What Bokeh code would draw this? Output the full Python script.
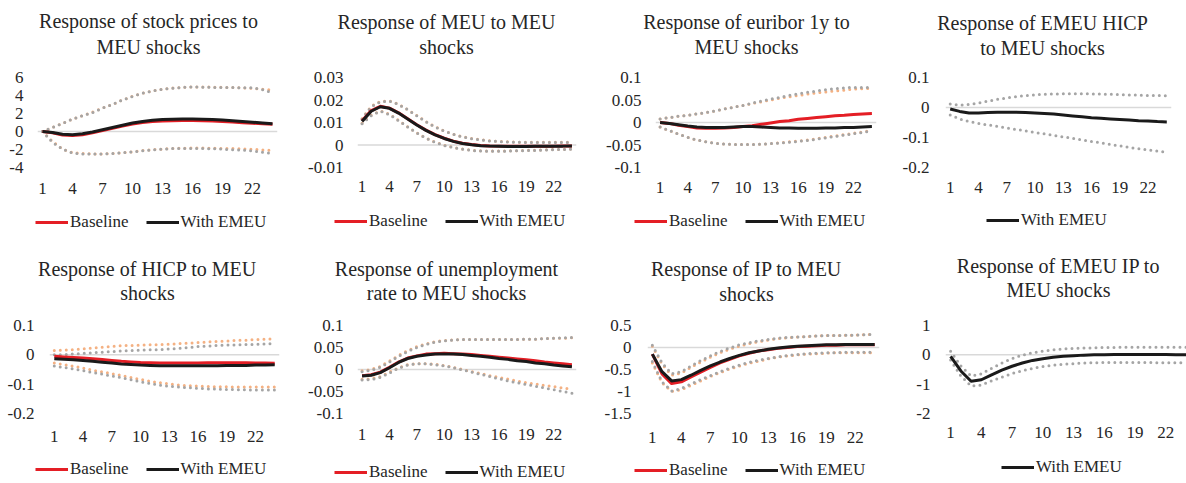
from bokeh.plotting import figure
from bokeh.layouts import column, row
from bokeh.models import (Range1d, FixedTicker, CustomJSTickFormatter, Span, Label,
                          Legend, LegendItem)
from bokeh.embed import file_html
from bokeh.resources import INLINE

# ---------------- data ----------------
periods = list(range(1, 25))
x_ticks = [1, 4, 7, 10, 13, 16, 19, 22]

# Panel 1: stock prices
stock_base = [0.0, -0.15, -0.4, -0.45, -0.35, -0.15, 0.1, 0.35, 0.6, 0.82, 1.0, 1.1, 1.17, 1.2, 1.22, 1.22, 1.2, 1.16, 1.1, 1.05, 0.98, 0.92, 0.86, 0.8]
stock_base_lo = [0.0, -1.1, -1.95, -2.35, -2.45, -2.5, -2.5, -2.45, -2.35, -2.25, -2.12, -2.02, -1.95, -1.9, -1.86, -1.84, -1.84, -1.86, -1.88, -1.9, -1.94, -1.98, -2.04, -2.1]
stock_base_hi = [0.0, 0.45, 0.9, 1.37, 1.75, 2.15, 2.6, 3.0, 3.5, 3.9, 4.25, 4.5, 4.7, 4.82, 4.9, 4.95, 4.95, 4.93, 4.9, 4.88, 4.85, 4.8, 4.7, 4.6]
stock_emeu = [0.0, -0.1, -0.3, -0.35, -0.25, -0.05, 0.2, 0.45, 0.7, 0.95, 1.12, 1.25, 1.32, 1.36, 1.38, 1.38, 1.36, 1.32, 1.27, 1.2, 1.12, 1.04, 0.95, 0.87]
stock_emeu_lo = [0.0, -1.2, -1.96, -2.4, -2.5, -2.5, -2.5, -2.45, -2.37, -2.26, -2.15, -2.04, -1.96, -1.9, -1.9, -1.9, -1.9, -1.92, -1.96, -2.03, -2.08, -2.15, -2.3, -2.45]
stock_emeu_hi = [0.0, 0.44, 0.9, 1.37, 1.75, 2.1, 2.6, 3.0, 3.5, 3.9, 4.25, 4.5, 4.7, 4.8, 4.9, 4.96, 4.92, 4.9, 4.88, 4.88, 4.87, 4.85, 4.65, 4.3]
stock_yticks = [-4, -2, 0, 2, 4, 6]

# Panel 2: MEU
meu_base = [0.0108, 0.0153, 0.0172, 0.0164, 0.0143, 0.0117, 0.009, 0.0066, 0.0046, 0.003, 0.0017, 0.0008, 0.0002, -0.0002, -0.0004, -0.0005, -0.0006, -0.0006, -0.0006, -0.0006, -0.0005, -0.0005, -0.0004, -0.0004]
meu_base_lo = [0.0097, 0.0132, 0.0152, 0.0137, 0.011, 0.0081, 0.0054, 0.0031, 0.0013, -0.0001, -0.0011, -0.0018, -0.0023, -0.0026, -0.0027, -0.0027, -0.0026, -0.0025, -0.0024, -0.0023, -0.0021, -0.002, -0.0019, -0.0018]
meu_base_hi = [0.0117, 0.0172, 0.0194, 0.0196, 0.0181, 0.0158, 0.0131, 0.0104, 0.0081, 0.0063, 0.0048, 0.0037, 0.0029, 0.0023, 0.0019, 0.0016, 0.0014, 0.0013, 0.0012, 0.0012, 0.0012, 0.0012, 0.0012, 0.0012]
meu_emeu = [0.0105, 0.015, 0.017, 0.0163, 0.0142, 0.0116, 0.0089, 0.0065, 0.0045, 0.0029, 0.0016, 0.0007, 0.0001, -0.0003, -0.0005, -0.0006, -0.0007, -0.0007, -0.0007, -0.0006, -0.0006, -0.0005, -0.0005, -0.0004]
meu_emeu_lo = [0.0095, 0.013, 0.015, 0.0135, 0.0108, 0.008, 0.0053, 0.003, 0.0012, -0.0002, -0.0012, -0.0019, -0.0024, -0.0027, -0.0028, -0.0028, -0.0027, -0.0026, -0.0025, -0.0024, -0.0022, -0.0021, -0.002, -0.0019]
meu_emeu_hi = [0.0115, 0.017, 0.0192, 0.0195, 0.018, 0.0157, 0.013, 0.0103, 0.008, 0.0062, 0.0047, 0.0036, 0.0028, 0.0022, 0.0018, 0.0015, 0.0013, 0.0012, 0.0011, 0.0011, 0.0011, 0.0011, 0.0011, 0.0011]
meu_yticks = [-0.01, 0, 0.01, 0.02, 0.03]

# Panel 3: euribor 1y
eur_base = [0.0, -0.002, -0.006, -0.009, -0.012, -0.013, -0.013, -0.012, -0.011, -0.009, -0.007, -0.004, -0.001, 0.002, 0.004, 0.007, 0.009, 0.011, 0.013, 0.015, 0.016, 0.018, 0.019, 0.02]
eur_base_lo = [-0.01, -0.018, -0.026, -0.033, -0.039, -0.043, -0.046, -0.048, -0.049, -0.049, -0.049, -0.048, -0.047, -0.045, -0.043, -0.041, -0.039, -0.036, -0.033, -0.03, -0.027, -0.024, -0.021, -0.018]
eur_base_hi = [0.008, 0.011, 0.014, 0.016, 0.019, 0.022, 0.026, 0.03, 0.034, 0.038, 0.042, 0.046, 0.05, 0.054, 0.057, 0.06, 0.063, 0.066, 0.068, 0.07, 0.072, 0.074, 0.075, 0.076]
eur_emeu = [0.0, -0.002, -0.005, -0.008, -0.01, -0.011, -0.011, -0.011, -0.01, -0.009, -0.009, -0.01, -0.011, -0.012, -0.012, -0.013, -0.013, -0.013, -0.012, -0.012, -0.011, -0.011, -0.01, -0.009]
eur_emeu_lo = [-0.01, -0.018, -0.026, -0.033, -0.039, -0.043, -0.046, -0.048, -0.049, -0.049, -0.049, -0.048, -0.047, -0.046, -0.044, -0.042, -0.04, -0.037, -0.034, -0.031, -0.028, -0.025, -0.022, -0.019]
eur_emeu_hi = [0.008, 0.011, 0.014, 0.016, 0.019, 0.022, 0.026, 0.03, 0.034, 0.038, 0.043, 0.048, 0.052, 0.056, 0.06, 0.064, 0.067, 0.07, 0.073, 0.075, 0.077, 0.078, 0.078, 0.078]
eur_yticks = [-0.1, -0.05, 0, 0.05, 0.1]

# Panel 4: EMEU HICP (With EMEU only)
ehicp_emeu = [-0.005, -0.013, -0.018, -0.018, -0.017, -0.016, -0.016, -0.016, -0.017, -0.018, -0.02, -0.022, -0.025, -0.028, -0.031, -0.034, -0.036, -0.038, -0.04, -0.042, -0.044, -0.045, -0.047, -0.048]
ehicp_emeu_lo = [-0.025, -0.038, -0.047, -0.053, -0.058, -0.063, -0.068, -0.073, -0.078, -0.083, -0.088, -0.093, -0.098, -0.103, -0.108, -0.113, -0.118, -0.123, -0.128, -0.133, -0.137, -0.141, -0.145, -0.149]
ehicp_emeu_hi = [0.012, 0.008, 0.01, 0.015, 0.021, 0.027, 0.032, 0.036, 0.04, 0.042, 0.044, 0.045, 0.046, 0.046, 0.046, 0.045, 0.045, 0.044, 0.043, 0.042, 0.041, 0.04, 0.04, 0.039]
ehicp_yticks = [-0.2, -0.1, 0, 0.1]

# Panel 5: HICP
hicp_base = [-0.005, -0.007, -0.009, -0.011, -0.013, -0.016, -0.019, -0.022, -0.024, -0.026, -0.027, -0.028, -0.028, -0.028, -0.028, -0.028, -0.027, -0.027, -0.027, -0.027, -0.027, -0.028, -0.028, -0.029]
hicp_base_lo = [-0.028, -0.033, -0.039, -0.045, -0.052, -0.058, -0.064, -0.07, -0.077, -0.084, -0.09, -0.095, -0.099, -0.103, -0.105, -0.107, -0.108, -0.109, -0.109, -0.11, -0.11, -0.11, -0.11, -0.11]
hicp_base_hi = [0.015, 0.016, 0.018, 0.02, 0.023, 0.026, 0.029, 0.031, 0.032, 0.033, 0.034, 0.035, 0.036, 0.038, 0.04, 0.042, 0.044, 0.046, 0.047, 0.049, 0.05, 0.052, 0.053, 0.055]
hicp_emeu = [-0.013, -0.015, -0.017, -0.019, -0.022, -0.025, -0.028, -0.031, -0.033, -0.035, -0.036, -0.037, -0.037, -0.037, -0.037, -0.037, -0.037, -0.037, -0.036, -0.036, -0.036, -0.035, -0.035, -0.034]
hicp_emeu_lo = [-0.038, -0.043, -0.048, -0.054, -0.06, -0.066, -0.072, -0.078, -0.085, -0.092, -0.098, -0.103, -0.107, -0.11, -0.112, -0.114, -0.116, -0.117, -0.118, -0.119, -0.119, -0.12, -0.12, -0.12]
hicp_emeu_hi = [0.0, 0.001, 0.003, 0.005, 0.007, 0.009, 0.011, 0.013, 0.015, 0.016, 0.017, 0.018, 0.02, 0.022, 0.025, 0.028, 0.03, 0.032, 0.033, 0.034, 0.035, 0.036, 0.037, 0.038]
hicp_yticks = [-0.2, -0.1, 0, 0.1]

# Panel 6: unemployment rate
unemp_base = [-0.014, -0.012, -0.006, 0.005, 0.017, 0.026, 0.031, 0.035, 0.036, 0.037, 0.036, 0.035, 0.034, 0.032, 0.03, 0.028, 0.026, 0.024, 0.022, 0.02, 0.017, 0.015, 0.013, 0.011]
unemp_base_lo = [-0.022, -0.021, -0.016, -0.006, 0.004, 0.011, 0.013, 0.013, 0.012, 0.009, 0.005, 0.0, -0.005, -0.009, -0.014, -0.018, -0.022, -0.026, -0.03, -0.033, -0.036, -0.039, -0.042, -0.045]
unemp_base_hi = [-0.003, 0.0, 0.007, 0.019, 0.032, 0.043, 0.052, 0.058, 0.063, 0.066, 0.067, 0.068, 0.068, 0.068, 0.068, 0.068, 0.068, 0.068, 0.069, 0.069, 0.07, 0.071, 0.071, 0.072]
unemp_emeu = [-0.015, -0.013, -0.007, 0.004, 0.016, 0.025, 0.03, 0.033, 0.035, 0.035, 0.035, 0.034, 0.032, 0.03, 0.028, 0.025, 0.023, 0.02, 0.018, 0.015, 0.013, 0.01, 0.008, 0.006]
unemp_emeu_lo = [-0.024, -0.023, -0.018, -0.008, 0.003, 0.01, 0.013, 0.013, 0.011, 0.008, 0.004, -0.001, -0.006, -0.011, -0.016, -0.021, -0.026, -0.03, -0.034, -0.038, -0.042, -0.046, -0.05, -0.054]
unemp_emeu_hi = [-0.005, -0.002, 0.005, 0.017, 0.03, 0.041, 0.05, 0.057, 0.062, 0.065, 0.067, 0.068, 0.068, 0.068, 0.068, 0.068, 0.068, 0.068, 0.069, 0.069, 0.07, 0.071, 0.072, 0.073]
unemp_yticks = [-0.1, -0.05, 0, 0.05, 0.1]

# Panel 7: IP
ip_base = [-0.15, -0.6, -0.82, -0.78, -0.67, -0.56, -0.45, -0.35, -0.27, -0.19, -0.13, -0.08, -0.05, -0.02, 0.0, 0.02, 0.03, 0.04, 0.05, 0.05, 0.06, 0.06, 0.06, 0.06]
ip_base_lo = [-0.35, -0.8, -1.0, -0.96, -0.86, -0.76, -0.66, -0.57, -0.49, -0.42, -0.36, -0.31, -0.26, -0.22, -0.19, -0.17, -0.15, -0.14, -0.13, -0.12, -0.12, -0.12, -0.12, -0.12]
ip_base_hi = [0.03, -0.38, -0.63, -0.58, -0.45, -0.33, -0.22, -0.12, -0.04, 0.03, 0.09, 0.13, 0.17, 0.2, 0.22, 0.24, 0.25, 0.26, 0.27, 0.27, 0.28, 0.28, 0.29, 0.3]
ip_emeu = [-0.15, -0.55, -0.76, -0.73, -0.63, -0.52, -0.42, -0.33, -0.25, -0.18, -0.12, -0.08, -0.04, -0.01, 0.01, 0.03, 0.04, 0.05, 0.06, 0.06, 0.07, 0.07, 0.07, 0.07]
ip_emeu_lo = [-0.32, -0.78, -0.99, -0.93, -0.83, -0.73, -0.64, -0.55, -0.47, -0.4, -0.34, -0.29, -0.25, -0.21, -0.18, -0.16, -0.14, -0.13, -0.12, -0.12, -0.11, -0.11, -0.11, -0.11]
ip_emeu_hi = [0.05, -0.35, -0.6, -0.55, -0.42, -0.3, -0.19, -0.09, -0.01, 0.06, 0.11, 0.15, 0.18, 0.21, 0.23, 0.24, 0.25, 0.26, 0.27, 0.27, 0.28, 0.28, 0.29, 0.3]
ip_yticks = [-1.5, -1, -0.5, 0, 0.5]

# Panel 8: EMEU IP (With EMEU only)
eip_emeu = [-0.05, -0.55, -0.9, -0.85, -0.68, -0.52, -0.39, -0.28, -0.19, -0.13, -0.08, -0.05, -0.03, -0.01, 0.0, 0.0, 0.01, 0.01, 0.01, 0.01, 0.01, 0.01, 0.0, 0.0]
eip_emeu_lo = [-0.18, -0.72, -1.06, -1.03, -0.89, -0.76, -0.64, -0.54, -0.46, -0.4, -0.35, -0.32, -0.3, -0.28, -0.27, -0.26, -0.26, -0.26, -0.26, -0.26, -0.27, -0.27, -0.27, -0.27]
eip_emeu_hi = [0.12, -0.38, -0.72, -0.65, -0.46, -0.28, -0.13, -0.01, 0.07, 0.13, 0.17, 0.2, 0.22, 0.23, 0.24, 0.25, 0.25, 0.26, 0.26, 0.26, 0.26, 0.26, 0.26, 0.26]
eip_yticks = [-2, -1, 0, 1]

titles = [
    ["Response of stock prices to", "MEU shocks"],
    ["Response of MEU to MEU", "shocks"],
    ["Response of euribor 1y to", "MEU shocks"],
    ["Response of EMEU HICP", "to MEU shocks"],
    ["Response of HICP to MEU", "shocks"],
    ["Response of unemployment", "rate to MEU shocks"],
    ["Response of IP to MEU", "shocks"],
    ["Response of EMEU IP to", "MEU shocks"],
]
legend_labels = ["Baseline", "With EMEU"]

# ---------------- style ----------------
FONT = "Liberation Serif"
TXT = "#262626"
RED = "#E41E25"
BLACK = "#1A1A1A"
ORANGE = "#F4B183"
GRAY = "#A5A5A5"
ZERO = "#D9D9D9"
W_TOTAL = 1186

# per-panel geometry (pixels inside its row band): x0 cell left, w cell width,
# frame L/R/T/B, title centre x + line centres y, legend sample start x + centre y,
# y/x tick label standoffs, x range end
specs = [
    (dict(base=stock_base, blo=stock_base_lo, bhi=stock_base_hi, em=stock_emeu, elo=stock_emeu_lo, ehi=stock_emeu_hi),
     stock_yticks, dict(x0=0, w=296, L=37, R=277, T=77, B=167, cx=148, tb=(20, 46), lx=35, ly=222, ys=14, xs=15, xe=24.5)),
    (dict(base=meu_base, blo=meu_base_lo, bhi=meu_base_hi, em=meu_emeu, elo=meu_emeu_lo, ehi=meu_emeu_hi),
     meu_yticks, dict(x0=296, w=296, L=61, R=280, T=77, B=167, cx=150, tb=(21, 46), lx=38, ly=221, ys=14, xs=13, xe=24.5)),
    (dict(base=eur_base, blo=eur_base_lo, bhi=eur_base_hi, em=eur_emeu, elo=eur_emeu_lo, ehi=eur_emeu_hi),
     eur_yticks, dict(x0=592, w=296, L=63, R=284, T=77, B=167, cx=154, tb=(21, 46), lx=42, ly=221, ys=14, xs=14, xe=24.5)),
    (dict(em=ehicp_emeu, elo=ehicp_emeu_lo, ehi=ehicp_emeu_hi),
     ehicp_yticks, dict(x0=888, w=298, L=57, R=283, T=77, B=168, cx=154, tb=(22, 47), lx=98, ly=220, ys=16, xs=14, xe=24.5)),
    (dict(base=hicp_base, blo=hicp_base_lo, bhi=hicp_base_hi, em=hicp_emeu, elo=hicp_emeu_lo, ehi=hicp_emeu_hi),
     hicp_yticks, dict(x0=0, w=296, L=49, R=279, T=85, B=173, cx=147, tb=(28, 52), lx=35, ly=229, ys=15, xs=17, xe=24.5)),
    (dict(base=unemp_base, blo=unemp_base_lo, bhi=unemp_base_hi, em=unemp_emeu, elo=unemp_emeu_lo, ehi=unemp_emeu_hi),
     unemp_yticks, dict(x0=296, w=296, L=61, R=280, T=85, B=177, cx=150, tb=(28, 52), lx=38, ly=232, ys=14, xs=15, xe=24.5)),
    (dict(base=ip_base, blo=ip_base_lo, bhi=ip_base_hi, em=ip_emeu, elo=ip_emeu_lo, ehi=ip_emeu_hi),
     ip_yticks, dict(x0=592, w=296, L=55, R=287, T=84, B=174, cx=154, tb=(28, 53), lx=42, ly=230, ys=16, xs=18, xe=24.5)),
    (dict(em=eip_emeu, elo=eip_emeu_lo, ehi=eip_emeu_hi),
     eip_yticks, dict(x0=888, w=298, L=57, R=298, T=80, B=173, cx=170, tb=(25, 49), lx=113, ly=227, ys=15, xs=13, xe=24.03)),
]
# row bands: total height, title band height, bottom of chart band
bands = [dict(h=240, th=63, mb=205), dict(h=243, th=66, mb=213)]

fmt_code = "return tick.toString()"


def blank_fig(w, h):
    f = figure(width=w, height=h, x_range=Range1d(-3, -2), y_range=Range1d(0, 1),
               x_axis_location=None, y_axis_location=None, title=None,
               output_backend="svg", toolbar_location=None,
               min_border=0, min_border_left=0, min_border_right=0,
               min_border_top=0, min_border_bottom=0)
    f.outline_line_color = None
    f.grid.visible = False
    return f


def chart(series, yticks, g, band):
    mh = band["mb"] - band["th"]
    eps = 1e-9
    p = figure(width=g["w"], height=mh,
               x_range=Range1d(0.5, g["xe"]),
               y_range=Range1d(min(yticks) - eps, max(yticks) + eps),
               output_backend="svg", toolbar_location=None, title=None,
               min_border_left=g["L"], min_border_right=g["w"] - g["R"],
               min_border_top=g["T"] - band["th"], min_border_bottom=band["mb"] - g["B"])
    p.outline_line_color = None
    p.grid.visible = False
    for ax, ticks, so in ((p.xaxis[0], x_ticks, g["xs"]), (p.yaxis[0], yticks, g["ys"])):
        ax.ticker = FixedTicker(ticks=ticks)
        ax.formatter = CustomJSTickFormatter(code=fmt_code)
        ax.axis_line_color = None
        ax.major_tick_line_color = None
        ax.minor_tick_line_color = None
        ax.major_tick_out = 0
        ax.major_tick_in = 0
        ax.major_label_standoff = so
        ax.major_label_text_font = FONT
        ax.major_label_text_font_size = "17px"
        ax.major_label_text_color = TXT

    p.add_layout(Span(location=0, dimension="width", line_color=ZERO, line_width=1.5, level="underlay"))

    dot = dict(line_width=3, line_dash="0 6", line_cap="round")
    if "base" in series:
        p.line(periods, series["blo"], line_color=ORANGE, **dot)
        p.line(periods, series["bhi"], line_color=ORANGE, **dot)
    p.line(periods, series["elo"], line_color=GRAY, **dot)
    p.line(periods, series["ehi"], line_color=GRAY, **dot)
    if "base" in series:
        p.line(periods, series["base"], line_color=RED, line_width=3, line_join="round")
    p.line(periods, series["em"], line_color=BLACK, line_width=3, line_join="round")
    return p


rows_out = []
for r, band in enumerate(bands):
    group = list(zip(specs[4 * r:4 * r + 4], titles[4 * r:4 * r + 4]))

    # title band (one strip for the whole row)
    tf = blank_fig(W_TOTAL, band["th"])
    for (s, yt, g), tl in group:
        for txt, yc in zip(tl, g["tb"]):
            tf.add_layout(Label(x=g["x0"] + g["cx"], y=band["th"] - yc, x_units="screen", y_units="screen",
                                text=txt, text_align="center", text_baseline="middle",
                                text_font=FONT, text_font_size="20px", text_color=TXT))

    charts = [chart(s, yt, g, band) for (s, yt, g), tl in group]

    # legend band: the series are drawn here too, but outside this strip's x range,
    # so only their legend keys show
    lh = band["h"] - band["mb"]
    lf = blank_fig(W_TOTAL, lh)
    leg_h = 20
    for (s, yt, g), tl in group:
        items = []
        if "base" in s:
            kb = lf.line(periods, s["base"], line_color=RED, line_width=3)
            items.append(LegendItem(label=legend_labels[0], renderers=[kb]))
        ke = lf.line(periods, s["em"], line_color=BLACK, line_width=3)
        items.append(LegendItem(label=legend_labels[1], renderers=[ke]))
        centre_from_top = g["ly"] - band["mb"]
        lf.add_layout(Legend(items=items, orientation="horizontal",
                             location=(g["x0"] + g["lx"], lh - centre_from_top - leg_h / 2),
                             glyph_width=33, glyph_height=leg_h, label_height=leg_h,
                             label_standoff=2, spacing=17, padding=0, margin=0,
                             border_line_color=None, background_fill_alpha=0,
                             label_text_font=FONT, label_text_font_size="17px",
                             label_text_color=TXT), "center")

    rows_out += [tf, row(*charts, spacing=0), lf]

layout = column(*rows_out, spacing=0)
open("out.html", "w").write(file_html(layout, INLINE))
